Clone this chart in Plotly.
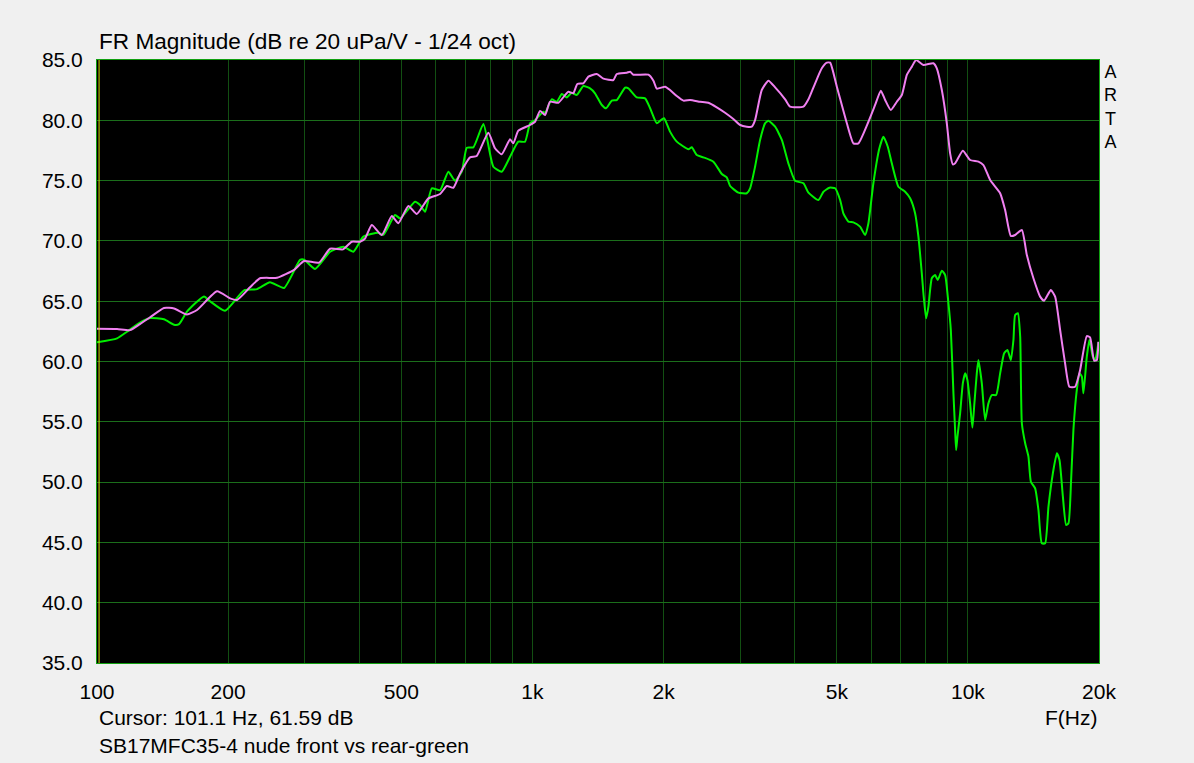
import plotly.graph_objects as go

# ---- data ----
front_freq = [100, 111.2, 119.1, 125.5, 132.4, 142.5, 150.3, 160.9, 169.7, 188.6, 202.1, 209.7, 224.6, 236.8,
              259.1, 283.5, 298.8, 323.6, 343.0, 367.3, 384.6, 401.8, 412.7, 427.6, 450.8, 475.3, 492.0,
              518.8, 542.4, 576.8, 613.6, 635.7, 658.3, 682.1, 719.1, 744.7, 791.8, 820.4, 850.0, 888.2,
              903.8, 928.0, 987.5, 1013.9, 1041, 1069, 1097, 1147, 1209, 1241, 1268, 1309, 1344, 1405,
              1455, 1534, 1562, 1647, 1676, 1705, 1846, 1896, 1930, 2017, 2070, 2145, 2222, 2301, 2427,
              2535, 2650, 2769, 2893, 2999, 3106, 3189, 3245, 3362, 3482, 3608, 3804, 3905, 4191, 4303,
              4458, 4618, 4742, 4826, 5000, 5272, 5458, 5604, 5909, 6122, 6310, 6455, 6652, 6867, 7051,
              7240, 7434, 7603, 7903, 8332, 8483, 8711, 8944, 9102, 9233, 9346, 9734, 10116, 10571,
              10855, 11246, 11858, 12175, 12548, 12837, 13300, 13656, 14140, 14650, 14962, 15502,
              15859, 16284, 16717, 17103, 17627, 18099, 18752, 19080, 19489, 19770, 19940]
front_db = [62.72, 62.7, 62.6, 63.1, 63.67, 64.44, 64.4, 63.9, 64.27, 65.82, 65.24, 65.1, 66.15, 66.9,
            66.95, 67.6, 68.33, 68.2, 69.35, 69.3, 69.93, 69.93, 70.2, 71.32, 70.49, 72.06, 71.46,
            72.9, 72.23, 73.53, 73.89, 74.55, 74.41, 75.6, 76.93, 77.04, 78.97, 77.68, 77.18, 78.42,
            78.09, 79.14, 79.61, 79.88, 80.77, 80.44, 81.54, 81.46, 82.37, 82.24, 83.01, 83.07, 83.62, 83.84,
            83.45, 83.34, 83.84, 83.95, 84.03, 83.78, 83.78, 83.28, 82.62, 82.79, 82.51, 82.01, 81.63, 81.68, 81.54,
            81.46, 81.08, 80.63, 80.11, 79.61, 79.47, 79.47, 80.02, 82.51, 83.28, 82.73, 81.74, 81.13, 81.13, 81.74,
            83.07, 84.31, 84.78, 84.78, 82.79, 79.75, 78.09, 78.09, 79.88, 81.27, 82.46, 81.68, 80.85, 81.54, 82.1,
            83.76, 84.45, 85.0, 84.59, 84.73, 84.31, 82.51, 79.75, 77.26, 76.35, 76.43, 77.48, 76.71, 76.57,
            76.29, 75.05, 73.95, 72.56, 70.41, 70.49, 70.9, 68.83, 66.9, 65.38, 65.04, 65.93,
            65.38, 62.61, 59.85, 57.91, 57.91, 59.29, 62.11, 62.0, 60.07, 60.12, 61.64]

rear_freq = [100, 111.2, 117.2, 125.5, 132.4, 142.5, 150.3, 154.3, 160.9, 176.1, 181.8, 196.8, 217.6, 233.1,
             249.6, 268.9, 292.6, 298.8, 316.8, 343, 367.9, 387.9, 409, 442.7, 454.6, 483.5, 496.5, 537.5,
             552, 566.8, 587.3, 613.6, 641, 664.1, 688.2, 706.6, 731.7, 771.6, 813.1, 850, 888.2, 928,
             961.6, 987.5, 1013.9, 1059.5, 1069, 1107, 1137, 1168, 1199, 1231, 1264, 1309, 1356, 1392,
             1443, 1476, 1521, 1562, 1632, 1661, 1736, 1814, 1863, 1930, 1982, 2006, 2070, 2145, 2281,
             2322, 2384, 2469, 2603, 2722, 2794, 2844, 2971, 3106, 3161, 3245, 3332, 3421, 3482, 3608,
             3738, 3870, 4010, 4191, 4303, 4536, 4658, 4808, 4955, 5088, 5176, 5315, 5458, 5654, 5805,
             5909, 6066, 6262, 6396, 6546, 6687, 6925, 7175, 7367, 7563, 7697, 7836, 7903, 8017, 8115,
             8261, 8405, 8526, 8711, 8864, 9021, 9136, 9263, 9346, 9396, 9461, 9596, 9734, 9854, 9973,
             10116, 10240, 10349, 10481, 10571, 10763, 10953, 11146, 11348, 11610, 11858, 12113, 12326,
             12548, 12722, 12837, 13023, 13183, 13300, 13536, 13772, 13950, 14268, 14520, 14783, 15044,
             15310, 15670, 16006, 16229, 16523, 16810, 17018, 17258, 17470, 17786, 18033, 18263, 18419,
             18752, 19011, 19355, 19592, 19770, 19940]
rear_db = [61.6, 61.92, 62.47, 63.22, 63.6, 63.5, 63.05, 63.1, 64.13, 65.4, 65.0, 64.21, 65.9, 66.0,
           66.57, 66.1, 68.42, 68.45, 67.67, 69.1, 69.52, 69.1, 70.35, 70.68, 70.5, 72.15, 71.87, 73.25,
           72.98, 72.42, 74.36, 74.2, 75.74, 74.99, 75.74, 77.73, 77.76, 79.69, 76.15, 75.74, 76.98, 78.23,
           78.23, 79.75, 80.02, 80.71, 80.58, 81.74, 81.54, 82.18, 81.9, 82.29, 82.1, 82.84, 82.65, 82.24,
           81.27, 81.0, 81.63, 81.68, 82.7, 82.65, 81.9, 81.82, 81.0, 79.75, 80.08, 80.17, 79.06, 78.23, 77.6,
           77.76, 77.12, 76.93, 76.57, 75.55, 75.27, 74.55, 74.0, 73.95, 74.36, 76.15, 78.37, 79.75, 79.97, 79.47,
           78.37, 76.43, 74.99, 74.78, 74.0, 73.39, 74.08, 74.41, 74.36, 73.39, 72.29, 71.6, 71.54, 71.18, 70.49,
           71.46, 74.78, 77.68, 78.64, 77.81, 76.43, 74.49, 74.08, 73.53, 72.29, 70.35, 67.31, 65.66, 63.58, 64.55,
           66.9, 67.17, 66.76, 67.53, 67.17, 64.83, 62.61, 57.36, 54.32, 52.66, 53.76, 55.7, 58.19, 59.02, 58.47,
           56.53, 54.51, 56.53, 59.02, 60.12, 58.19, 55.15, 56.53, 57.22, 57.22, 59.02, 60.68, 60.95,
           60.12, 61.78, 63.86, 64.0, 62.06, 54.88, 53.22, 52.11, 50.03, 49.48, 47.69, 44.92, 44.92,
           47.96, 50.73, 52.39, 51.83, 48.79, 46.44, 46.58, 50.17, 54.32, 57.64, 59.02, 58.74, 57.36,
           60.4, 61.78, 60.4, 60.12, 60.68, 61.6]

x_grid = [100, 200, 300, 400, 500, 600, 700, 800, 900,
          1000, 2000, 3000, 4000, 5000, 6000, 7000, 8000, 9000, 10000, 20000]
x_labels = {100: "100", 200: "200", 500: "500", 1000: "1k", 2000: "2k",
            5000: "5k", 10000: "10k", 20000: "20k"}
y_ticks = [35, 40, 45, 50, 55, 60, 65, 70, 75, 80, 85]
cursor_freq = 101.1

FONT = "Liberation Sans, Arial, sans-serif"
FS = 21

fig = go.Figure()
fig.add_trace(go.Scatter(x=rear_freq, y=rear_db, mode="lines",
                         line=dict(color="#00f000", width=2, shape="spline", smoothing=0.5),
                         name="rear", showlegend=False))
fig.add_trace(go.Scatter(x=front_freq, y=front_db, mode="lines",
                         line=dict(color="#f080f0", width=2, shape="spline", smoothing=0.5),
                         name="front", showlegend=False))

fig.update_layout(
    width=1194, height=763,
    margin=dict(l=97, r=95, t=60, b=100),
    paper_bgcolor="#f0f0f0", plot_bgcolor="#000000",
    font=dict(family=FONT, size=FS, color="#000000"),
    showlegend=False,
)
fig.update_xaxes(
    type="log", range=[2, 4.30103],
    tickmode="array", tickvals=x_grid,
    ticktext=[x_labels.get(v, "") for v in x_grid],
    showgrid=True, gridcolor="#124f12", gridwidth=1,
    showline=True, linecolor="#10a010", linewidth=1, mirror=True,
    ticks="", ticklabelstandoff=10, zeroline=False,
    tickfont=dict(family=FONT, size=FS),
)
fig.update_yaxes(
    range=[35, 85], tickmode="array", tickvals=y_ticks,
    ticktext=[f"{v:.1f}" for v in y_ticks],
    showgrid=True, gridcolor="#1b6e1b", gridwidth=1,
    showline=True, linecolor="#10a010", linewidth=1, mirror=True,
    ticks="", ticklabelstandoff=9, zeroline=False,
    tickfont=dict(family=FONT, size=FS),
)

# cursor line
fig.add_shape(type="line", xref="x", yref="paper", x0=cursor_freq, x1=cursor_freq, y0=0, y1=1,
              line=dict(color="#e0e000", width=1))

ann = [
    dict(text="FR Magnitude (dB re 20 uPa/V - 1/24 oct)", x=0, y=1.03, xanchor="left", yanchor="middle",
         size=22.6),
    dict(text="Cursor: 101.1 Hz, 61.59 dB", x=0, y=-0.0896, xanchor="left", yanchor="middle", size=FS),
    dict(text="F(Hz)", x=1, y=-0.0896, xanchor="right", yanchor="middle", size=FS),
    dict(text="SB17MFC35-4 nude front vs rear-green", x=0, y=-0.1376, xanchor="left", yanchor="middle",
         size=FS),
    dict(text="<br>".join("ARTA"), x=1.011, y=(663 - 60) / 603, xanchor="center", yanchor="top",
         size=18),
]
for a in ann:
    sz = a.pop("size")
    fig.add_annotation(xref="paper", yref="paper", showarrow=False,
                       font=dict(family=FONT, size=sz, color="#000000"), **a)

fig.write_html("out.html",
               config={"displayModeBar": False},
               post_script="document.body.style.margin='0';document.body.style.overflow='hidden';"
                           "document.body.style.background='#f0f0f0';")
